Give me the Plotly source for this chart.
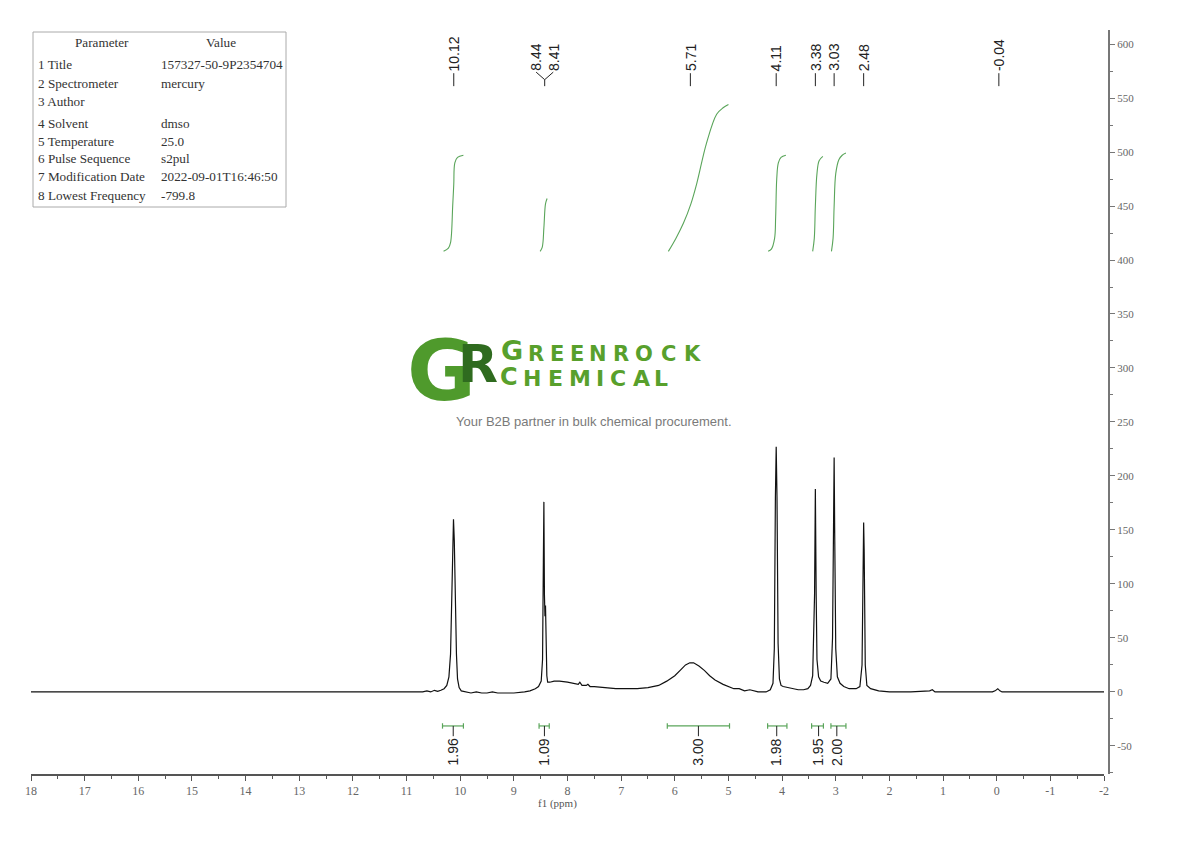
import plotly.graph_objects as go

# 1H NMR spectrum
spec_ppm = [18.0, 16.0, 14.0, 12.0, 11.0, 10.70, 10.62, 10.55, 10.48, 10.42, 10.36, 10.30, 10.25,
            10.21, 10.18, 10.16, 10.14, 10.125, 10.11, 10.09, 10.07, 10.05, 10.02, 9.98, 9.90,
            9.80, 9.70, 9.60, 9.50, 9.40, 9.30, 9.20, 9.00, 8.80, 8.70, 8.60, 8.54, 8.49,
            8.465, 8.45, 8.44, 8.43, 8.42, 8.41, 8.40, 8.385, 8.37, 8.33, 8.25, 8.15, 8.00,
            7.90, 7.80, 7.77, 7.73, 7.65, 7.62, 7.58, 7.50, 7.30, 7.10, 6.90, 6.70, 6.50,
            6.30, 6.15, 6.00, 5.90, 5.80, 5.72, 5.65, 5.55, 5.45, 5.35, 5.25, 5.10, 5.00,
            4.90, 4.80, 4.70, 4.60, 4.45, 4.30, 4.22, 4.17, 4.145, 4.125, 4.11, 4.095, 4.075,
            4.05, 4.02, 3.98, 3.90, 3.80, 3.70, 3.60, 3.52, 3.47, 3.43, 3.395, 3.38, 3.365,
            3.35, 3.32, 3.28, 3.22, 3.15, 3.09, 3.06, 3.04, 3.03, 3.02, 3.00, 2.97, 2.92,
            2.85, 2.75, 2.62, 2.55, 2.51, 2.49, 2.48, 2.47, 2.45, 2.42, 2.35, 2.20, 2.00,
            1.60, 1.25, 1.20, 1.15, 0.50, 0.08, 0.03, -0.02, -0.06, -0.10, -1.00, -2.00]
spec_int = [0, 0, 0, 0, 0, 0, 1, 0, 1.5, 0.5, 1.5, 3, 6,
            14, 35, 80, 135, 160, 140, 80, 35, 12, 4, 1, 0,
            -1, 0, -1, -1, 0, -1, -1, -1, 0, 1, 3, 5, 10,
            30, 120, 176, 90, 70, 80, 45, 15, 9, 9, 10, 10, 9,
            8, 7, 9, 6, 6, 7, 5, 5, 4, 3, 3, 3, 4,
            6, 10, 15, 20, 25, 27, 27, 24, 20, 15, 11, 7, 5,
            3, 3, 1, 2, 0, 0, 2, 8, 40, 180, 227, 180, 45,
            12, 6, 5, 4, 3, 2, 2, 3, 6, 15, 90, 188, 90,
            30, 14, 10, 9, 8, 12, 50, 160, 217, 150, 40, 14, 8,
            5, 3, 3, 5, 25, 130, 157, 130, 25, 6, 3, 1, 0,
            0, 1, 2, 0, 0, 0, 1, 3, 1, 0, 0, 0]

# integral curves (ppm, integral trace value)
integ_curves = [
    ([10.31, 10.22, 10.18, 10.14, 10.12, 10.10, 10.05, 9.94],
     [408, 411, 416, 450, 470, 490, 495, 497]),
    ([8.51, 8.47, 8.44, 8.41, 8.38],
     [408, 412, 430, 452, 457]),
    ([6.12, 5.98, 5.84, 5.70, 5.59, 5.41, 5.22, 5.10, 5.00],
     [408, 420, 434, 452, 471, 508, 535, 541, 544]),
    ([4.26, 4.20, 4.14, 4.12, 4.10, 4.07, 4.02, 3.93],
     [408, 410, 420, 440, 475, 490, 495, 497]),
    ([3.43, 3.40, 3.38, 3.35, 3.31, 3.24],
     [408, 420, 450, 480, 492, 496]),
    ([3.08, 3.05, 3.03, 3.00, 2.94, 2.88, 2.81],
     [408, 420, 450, 480, 493, 497, 499]),
]

# integration ranges under the baseline
int_from = [10.33, 8.53, 6.14, 4.27, 3.45, 3.09]
int_to = [9.94, 8.34, 4.98, 3.91, 3.23, 2.81]
int_mid = [10.13, 8.43, 5.56, 4.10, 3.32, 2.98]
int_labels = ["1.96", "1.09", "3.00", "1.98", "1.95", "2.00"]

# peak picking labels
single_peaks = [10.12, 5.71, 4.11, 3.38, 3.03, 2.48, -0.04]
pair_peaks = [8.44, 8.41]

x_ticks = list(range(18, -3, -1))
x_ticktext = [str(v) for v in x_ticks]
y_ticks = list(range(-50, 601, 50))
y_ticktext = [str(v) for v in y_ticks]

params = ["Parameter", "1 Title", "2 Spectrometer", "3 Author", "4 Solvent", "5 Temperature",
          "6 Pulse Sequence", "7 Modification Date", "8 Lowest Frequency"]
values = ["Value", "157327-50-9P2354704", "mercury", "", "dmso", "25.0",
          "s2pul", "2022-09-01T16:46:50", "-799.8"]

GREEN = "#5aa55a"
OFF = 8  # page body margin
W, H = 1190 - OFF, 841 - OFF
L, R, T, B = 31 - OFF, 81, 30 - OFF, 67
PW, PH = W - L - R, H - T - B


def px(x):
    # screen pixel -> paper x
    return (x - OFF - L) / PW


def py(y):
    # screen pixel -> paper y
    return 1 - (y - OFF - T) / PH


fig = go.Figure()
fig.add_trace(go.Scatter(x=spec_ppm, y=spec_int, mode="lines",
                         line=dict(color="#111", width=1.2), hoverinfo="skip"))
for xs, ys in integ_curves:
    fig.add_trace(go.Scatter(x=xs, y=ys, mode="lines", line=dict(color=GREEN, width=1.1,
                                                                 shape="spline"),
                             hoverinfo="skip"))

shapes = []
ann = []
bar_y = -31.5
lab_font = dict(family="Liberation Sans", size=14, color="#222")
for a, b, m, lab in zip(int_from, int_to, int_mid, int_labels):
    ln = dict(color=GREEN, width=1.2)
    shapes.append(dict(type="line", x0=a, x1=b, y0=bar_y, y1=bar_y, line=ln))
    shapes.append(dict(type="line", x0=a, x1=a, y0=bar_y - 2.5, y1=bar_y + 2.5, line=ln))
    shapes.append(dict(type="line", x0=b, x1=b, y0=bar_y - 2.5, y1=bar_y + 2.5, line=ln))
    shapes.append(dict(type="line", x0=m, x1=m, y0=bar_y, y1=-41,
                       line=dict(color="#222", width=1)))
    ann.append(dict(x=m, y=-41.5, text=lab, textangle=-90, showarrow=False, xanchor="center",
                    yanchor="top", font=lab_font))

for p in single_peaks:
    shapes.append(dict(type="line", x0=p, x1=p, y0=561, y1=573, line=dict(color="#222", width=1)))
    ann.append(dict(x=p, y=573, text=f"{p:.2f}", textangle=-90, showarrow=False,
                    xanchor="center", yanchor="bottom", font=lab_font))

pair_c = sum(pair_peaks) / len(pair_peaks)
for k, p in enumerate(pair_peaks):
    lx = pair_c + 0.16 if k == 0 else pair_c - 0.16
    shapes.append(dict(type="line", x0=lx, x1=pair_c, y0=574, y1=567,
                       line=dict(color="#222", width=1)))
    ann.append(dict(x=lx, y=573, text=f"{p:.2f}", textangle=-90, showarrow=False,
                    xanchor="center", yanchor="bottom", font=lab_font))
shapes.append(dict(type="line", x0=pair_c, x1=pair_c, y0=561, y1=567,
                   line=dict(color="#222", width=1)))

# parameter table
shapes.append(dict(type="rect", xref="paper", yref="paper", x0=px(33), x1=px(286),
                   y0=py(207), y1=py(32), line=dict(color="#aaa", width=1)))
row_y = [43, 65, 83, 101, 123, 141, 159, 177, 195]
tfont = dict(family="Liberation Serif", size=13.2, color="#333")
for i, (p, v) in enumerate(zip(params, values)):
    if i == 0:
        ann.append(dict(x=px(102), y=py(row_y[i]), xref="paper", yref="paper", text=p,
                        showarrow=False, xanchor="center", yanchor="middle", font=tfont))
        ann.append(dict(x=px(221), y=py(row_y[i]), xref="paper", yref="paper", text=v,
                        showarrow=False, xanchor="center", yanchor="middle", font=tfont))
    else:
        ann.append(dict(x=px(36), y=py(row_y[i]), xref="paper", yref="paper", text=p,
                        showarrow=False, xanchor="left", yanchor="middle", font=tfont))
        if v:
            ann.append(dict(x=px(159), y=py(row_y[i]), xref="paper", yref="paper", text=v,
                            showarrow=False, xanchor="left", yanchor="middle", font=tfont))

# watermark logo
ann.append(dict(x=px(441), y=py(371), xref="paper", yref="paper", text="G", showarrow=False,
                xanchor="center", yanchor="middle",
                font=dict(family="DejaVu Sans", size=84, color="#4f9a2c", weight="bold")))
ann.append(dict(x=px(478), y=py(364), xref="paper", yref="paper", text="R", showarrow=False,
                xanchor="center", yanchor="middle",
                font=dict(family="DejaVu Sans", size=52, color="#2f6b1f", weight="bold")))
word1 = "GREENROCK"
word1_x = [512, 536, 557, 577, 598, 621, 644, 668, 692]
word2 = "CHEMICAL"
word2_x = [509, 532, 555, 580, 600, 618, 641, 661]
for i, (ch, xx) in enumerate(zip(word1, word1_x)):
    ann.append(dict(x=px(xx), y=py(368), xref="paper", yref="paper", text=ch, showarrow=False,
                    xanchor="center", yanchor="bottom",
                    font=dict(family="DejaVu Sans", size=27 if i == 0 else 21, color="#58a02c",
                              weight="bold")))
for i, (ch, xx) in enumerate(zip(word2, word2_x)):
    ann.append(dict(x=px(xx), y=py(393), xref="paper", yref="paper", text=ch, showarrow=False,
                    xanchor="center", yanchor="bottom",
                    font=dict(family="DejaVu Sans", size=24 if i == 0 else 22, color="#58a02c",
                              weight="bold")))
ann.append(dict(x=px(594), y=py(421), xref="paper", yref="paper",
                text="Your B2B partner in bulk chemical procurement.", showarrow=False,
                xanchor="center", yanchor="middle",
                font=dict(family="Liberation Sans", size=13, color="#7a7a7a")))

ann.append(dict(x=8.18, y=0, xref="x", yref="paper", yshift=-29, text="f1 (ppm)",
                showarrow=False, xanchor="center", yanchor="middle",
                font=dict(family="Liberation Serif", size=11, color="#555")))

fig.update_layout(
    width=W, height=H, margin=dict(l=L, r=R, t=T, b=B),
    paper_bgcolor="white", plot_bgcolor="white", showlegend=False,
    shapes=shapes, annotations=ann, hovermode=False,
    xaxis=dict(range=[18, -2], domain=[0, (1104 - OFF - L) / PW], showline=True,
               linecolor="#555", linewidth=1.5, ticks="outside", ticklen=5, tickwidth=1.2,
               tickcolor="#555", tickmode="array", tickvals=x_ticks, ticktext=x_ticktext,
               tickfont=dict(family="Liberation Serif", size=12, color="#666"),
               minor=dict(ticks="outside", ticklen=3, tickcolor="#555", dtick=0.5, tick0=0),
               showgrid=False, zeroline=False),
    yaxis=dict(range=[-76, 613], side="right", anchor="free", position=1, showline=True,
               linecolor="#777", linewidth=2, ticks="outside", ticklen=5, tickcolor="#777",
               tickmode="array", tickvals=y_ticks, ticktext=y_ticktext,
               tickfont=dict(family="Liberation Serif", size=11, color="#666"),
               minor=dict(ticks="outside", ticklen=3, tickcolor="#777", dtick=25, tick0=0),
               showgrid=False, zeroline=False),
)

fig.write_html("out.html", config={"displayModeBar": False})
